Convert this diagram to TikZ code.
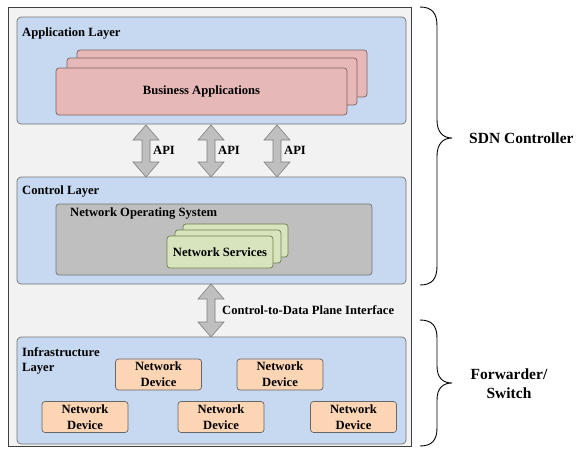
\documentclass[tikz,border=0pt]{standalone}
\usepackage{fontspec}
\setmainfont{Liberation Serif}
\begin{document}
\begin{tikzpicture}[x=1pt,y=-1pt,
  lbl/.style={font=\fontsize{12.6}{17}\selectfont\bfseries, inner sep=0pt},
  biglbl/.style={font=\fontsize{15.5}{19}\selectfont\bfseries, inner sep=0pt},
  layer/.style={draw=black!55, fill=layerblue, rounded corners=4pt, line width=0.7pt},
  appbox/.style={draw=pinkedge, fill=pinkfill, rounded corners=3pt, line width=0.7pt},
  svcbox/.style={draw=greenedge, fill=greenfill, rounded corners=3pt, line width=0.7pt},
  devbox/.style={draw=black!60, fill=peach, rounded corners=3pt, line width=0.7pt, minimum width=86pt, minimum height=31pt, inner sep=0pt, align=center, font=\fontsize{12.6}{16}\selectfont\bfseries},
  blockarrow/.style={draw=black!50, fill=black!25, line width=0.6pt, line join=miter},
  bracestyle/.style={draw=black, line width=0.9pt}
]
\definecolor{layerblue}{HTML}{C6D9F1}
\definecolor{pinkfill}{HTML}{E6B9B8}
\definecolor{pinkedge}{HTML}{7F5F5F}
\definecolor{greenfill}{HTML}{D7E4BD}
\definecolor{greenedge}{HTML}{6F7F4F}
\definecolor{peach}{HTML}{FCD5B5}
\definecolor{outerbg}{HTML}{F2F2F2}
\useasboundingbox (0,0) rectangle (576,448);
\fill[white] (0,0) rectangle (576,448);
% outer frame
\draw[draw=black!75, fill=outerbg, line width=0.8pt] (8,7) rectangle (411,446);
% layers
\draw[layer] (17,17) rectangle (406,124);
\node[lbl, anchor=west] (applbl) at (22,33) {Application Layer};
\draw[layer] (17,177) rectangle (406,284);
\node[lbl, anchor=west] (ctllbl) at (22,191) {Control Layer};
\draw[layer] (17,337) rectangle (406,444);
\node[lbl, anchor=west] (inflbl1) at (22,352) {Infrastructure};
\node[lbl, anchor=west] (inflbl2) at (22,369) {Layer};
% business applications stack
\draw[appbox] (77,50) rectangle (367,97);
\draw[appbox] (67,58) rectangle (357,105);
\draw[appbox] (56,68) rectangle (347,115);
\node[lbl] (bizapp) at (201.5,91) {Business Applications};
% NOS
\draw[draw=black!55, fill=black!25, rounded corners=3pt, line width=0.7pt] (56,204) rectangle (372,275);
\node[lbl, anchor=west] (noslbl) at (70,214) {Network Operating System};
\draw[svcbox] (183,224) rectangle (288,257);
\draw[svcbox] (175,230) rectangle (281,263);
\draw[svcbox] (167,236) rectangle (273,268);
\node[lbl] (netsvc) at (220,252) {Network Services};
% block arrows
\newcommand{\dblarrow}[3]{%
  \draw[blockarrow] (#1,#2) -- ++(13,15) -- ++(-9,0) |- (#1+4,#3-15) -- ++(9,0) -- (#1,#3)
    -- ++(-13,-15) -- ++(9,0) |- (#1-4,#2+15) -- ++(-9,0) -- cycle;}
\dblarrow{146}{125}{177}
\dblarrow{211}{125}{177}
\dblarrow{277}{125}{177}
\dblarrow{211}{284}{337}
\node[lbl, anchor=west] (api1) at (153,150) {API};
\node[lbl, anchor=west] (api2) at (218,150) {API};
\node[lbl, anchor=west] (api3) at (284,150) {API};
\node[lbl, anchor=west] (cdpi) at (222,310) {Control-to-Data Plane Interface};
% network devices
\node[devbox] (d1) at (158.5,374.5) {Network\\Device};
\node[devbox] (d2) at (280,374.5) {Network\\Device};
\node[devbox] (d3) at (85,417) {Network\\Device};
\node[devbox] (d4) at (221,417) {Network\\Device};
\node[devbox] (d5) at (353.5,417) {Network\\Device};
% braces
\draw[bracestyle] (420,7) .. controls (432,7) and (437,13) .. (437,26) -- (437,120)
  .. controls (437,132) and (443,138) .. (452,138)
  .. controls (443,138) and (437,144) .. (437,156) -- (437,266)
  .. controls (437,279) and (432,285) .. (420,285);
\draw[bracestyle] (420,320) .. controls (432,320) and (437,326) .. (437,338) -- (437,366)
  .. controls (437,378) and (443,383) .. (452,383)
  .. controls (443,383) and (437,388) .. (437,400) -- (437,428)
  .. controls (437,440) and (432,446) .. (420,446);
\node[biglbl, anchor=west] (sdn) at (469,138) {SDN Controller};
\node[biglbl, align=center] (fwd) at (509,384) {Forwarder/\\Switch};
\end{tikzpicture}
\end{document}
